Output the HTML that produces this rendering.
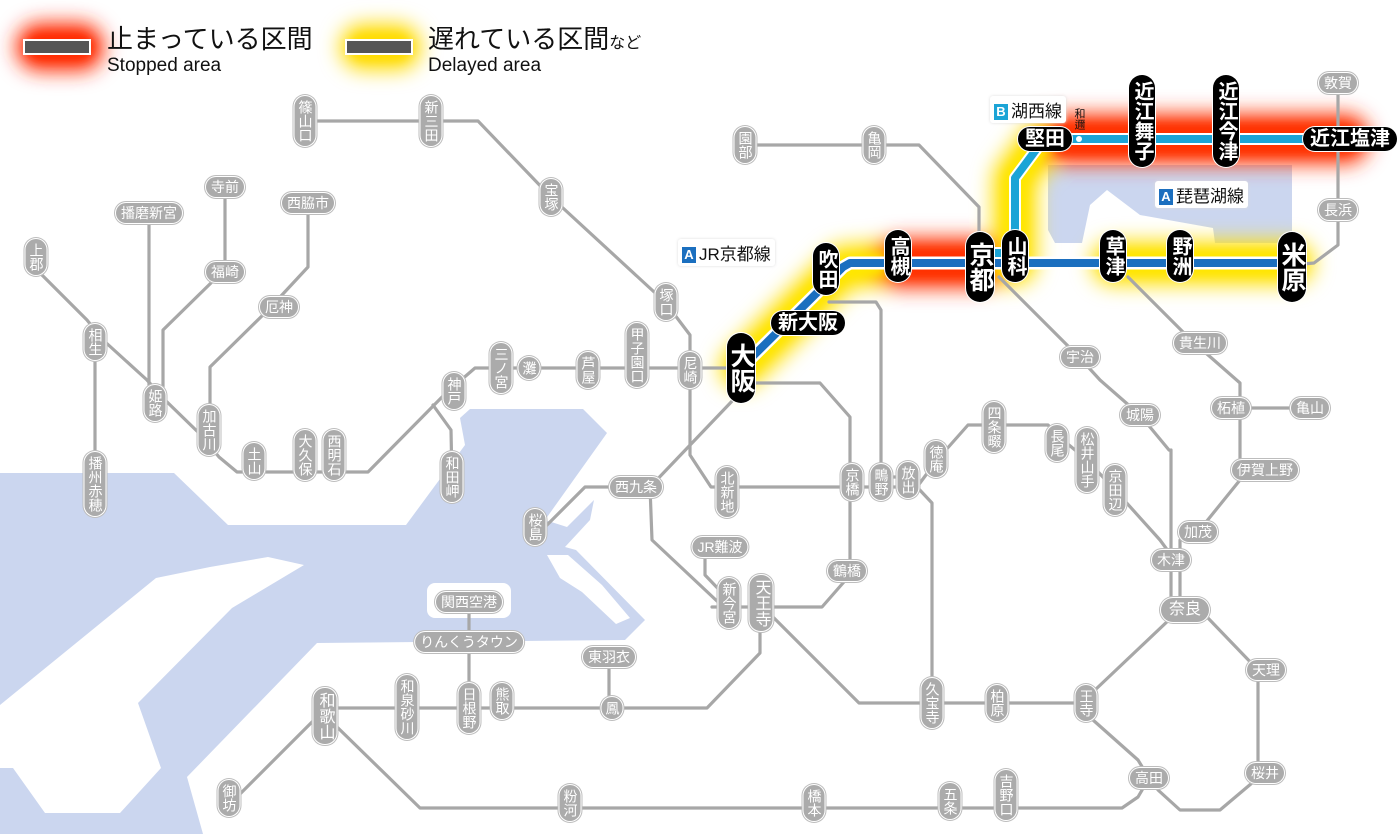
<!DOCTYPE html>
<html><head><meta charset="utf-8">
<style>
html,body{margin:0;padding:0;background:#fff;}
#w{position:relative;width:1400px;height:834px;overflow:hidden;font-family:"Liberation Sans","Noto Sans CJK JP",sans-serif;}
svg{position:absolute;left:0;top:0;}
.p{position:absolute;transform:translate(-50%,-50%);background:#ababab;color:#fff;font-size:14px;border-radius:11px;box-shadow:0 0 0 1px #fff,0 0 0 2px #bdbdbd;white-space:nowrap;text-align:center;}
.v{writing-mode:vertical-rl;width:21px;line-height:21px;padding:4px 0;}
.h{height:20px;line-height:20px;padding:0 5px;}
.b{position:absolute;transform:translate(-50%,-50%);background:#000;color:#fff;font-weight:bold;font-size:20px;border-radius:14px;white-space:nowrap;text-align:center;box-shadow:0 0 0 1px #fff;}
.bv{writing-mode:vertical-rl;width:26px;line-height:26px;padding:6px 0;}
.bh{height:24px;line-height:24px;padding:0 7px;}
.big{font-size:25px;width:28px;line-height:28px;padding:10px 0;}
.lab{position:absolute;background:#fff;font-size:17px;color:#111;padding:1px 4px;border-radius:3px;box-shadow:0 0 3px #ddd;white-space:nowrap;}
.lab i{font-style:normal;display:inline-block;width:14px;height:16px;line-height:16px;font-size:13px;color:#fff;text-align:center;margin-right:3px;vertical-align:1px;font-weight:bold;}
</style></head><body><div id="w">
<svg width="1400" height="834" viewBox="0 0 1400 834">
<defs>
<filter id="bl" x="-50%" y="-50%" width="200%" height="200%"><feGaussianBlur stdDeviation="10"/></filter>
<filter id="bl2" x="-50%" y="-50%" width="200%" height="200%"><feGaussianBlur stdDeviation="5"/></filter>
</defs>
<g fill="#cbd6ef">
<polygon points="0,473 174,473 228,525 406,525 465,445 460,418 470,409 583,409 607,433 545,520 567,527 594,500 590,520 565,547 576,550 645,620 625,640 317,643 187,777 203,834 0,834"/>
<polygon points="1048,165 1292,165 1292,243 1215,243 1213,228 1140,215 1107,190 1090,205 1082,243 1055,243 1048,230"/>
</g>
<g fill="#fff">
<polygon points="304,565 268,557 210,567 156,578 0,705 0,768 13,768 45,813 120,813 161,768 138,703 232,608"/>
<rect x="427" y="583" width="84" height="35" rx="8"/>
<polygon points="547,555 568,555 602,585 630,618 616,624 582,592 560,578"/>
</g>
<g fill="none" stroke-linecap="round" stroke-linejoin="round" filter="url(#bl)">
<path d="M742,367 L843,267 L898,263 M980,263 L1015,263 L1015,178 L1044,139 M1113,263 L1292,263" stroke="#ffe000" stroke-width="44"/>
<path d="M898,263 L980,263 M1062,139 L1345,139" stroke="#ff3000" stroke-width="50"/>
<path d="M40,47 L80,47" stroke="#ff2a00" stroke-width="48"/>
<path d="M363,47 L398,47" stroke="#ffdc00" stroke-width="46"/>
</g>
<g fill="none" stroke-linecap="round" stroke-linejoin="round" filter="url(#bl2)">
<path d="M742,367 L843,267 L898,263 M980,263 L1015,263 L1015,178 L1044,139 M1113,263 L1292,263" stroke="#ffe800" stroke-width="22"/>
<path d="M898,263 L980,263 M1062,139 L1345,139" stroke="#ff3000" stroke-width="28"/>
<path d="M40,47 L80,47" stroke="#ff2a00" stroke-width="24"/>
<path d="M363,47 L398,47" stroke="#ffdc00" stroke-width="24"/>
</g>
<rect x="24" y="40" width="66" height="14" fill="#555" stroke="#fff" stroke-width="2"/>
<rect x="346" y="40" width="66" height="14" fill="#555" stroke="#fff" stroke-width="2"/>
<g fill="none" stroke-linejoin="round" stroke-linecap="round">
<g stroke="#a7a7a7" stroke-width="3.2">
<path d="M305,121 L478,121 L551,197 L665,302 L690,335 L690,455 L711,487 L908,487"/>
<path d="M881,477 L908,477"/>
<path d="M740,368 L475,368 L446,393 L368,472 L237,472 L219,457 L201,435 L165,400 L147,380 L103,340 L87,320 L40,273"/>
<path d="M95,340 L95,500"/>
<path d="M433,405 L451,430 L452,480"/>
<path d="M149,213 L149,400"/>
<path d="M225,187 L225,272 L214,280 L163,330 L163,390"/>
<path d="M308,203 L308,267 L268,310 L210,367 L210,430"/>
<path d="M740,383 L820,383 L850,417 L850,575 L822,607 L712,607"/>
<path d="M735,398 L650,487 L652,540 L718,602 L729,607"/>
<path d="M636,487 L585,487 L545,527"/>
<path d="M705,548 L705,575 L729,600"/>
<path d="M760,630 L760,653 L707,708 L335,708"/>
<path d="M769,613 L859,703 L1086,703 L1095,690 L1171,618"/>
<path d="M1093,720 L1138,760 L1149,778 L1138,797 L1122,808 L420,808 L335,725"/>
<path d="M317,717 L237,797"/>
<path d="M609,657 L609,700"/>
<path d="M469,602 L469,700"/>
<path d="M1158,790 L1180,810 L1220,810 L1252,783 L1258,773 L1258,670 L1207,617"/>
<path d="M1171,450 L1171,610 M1140,415 L1169,450 M1140,415 L1100,380 L1079,357 L999,277"/>
<path d="M1180,610 L1180,540 L1198,532 L1240,480 L1240,383 L1191,340 L1128,277"/>
<path d="M1231,408 L1310,408 M1240,470 L1265,470"/>
<path d="M917,487 L937,460 L968,425 L1048,425 L1057,435 L1087,460 L1115,490 L1160,540 L1171,555"/>
<path d="M917,487 L932,503 L932,703"/>
<path d="M829,302 L876,302 L881,310 L881,487"/>
<path d="M745,145 L919,145 L979,207 L979,240"/>
<path d="M1015,265 L1113,265 M1292,265 L1314,263 L1338,245 L1338,83"/>
</g>
</g>
<g fill="none" stroke-linejoin="round">
<path d="M742,367 L843,267 L850,263 L1292,263" stroke="#fff" stroke-width="13"/>
<path d="M980,253 L1015,253 L1015,178 L1044,139 L1352,139" stroke="#fff" stroke-width="12"/>
<path d="M742,367 L843,267 L850,263 L1292,263" stroke="#1b6fbf" stroke-width="8"/>
<path d="M980,253 L1015,253 L1015,178 L1044,139 L1352,139" stroke="#1ba4d6" stroke-width="8"/>
</g>
<circle cx="1079" cy="139" r="3" fill="#fff"/>
</svg>

<div style="position:absolute;left:107px;top:24px;font-size:26px;line-height:30px;color:#111;">止まっている区間</div>
<div style="position:absolute;left:107px;top:55px;font-size:19px;line-height:22px;color:#111;">Stopped area</div>
<div style="position:absolute;left:428px;top:24px;font-size:26px;line-height:30px;color:#111;">遅れている区間<span style="font-size:16px">など</span></div>
<div style="position:absolute;left:428px;top:55px;font-size:19px;line-height:22px;color:#111;">Delayed area</div>

<div class="lab" style="left:990px;top:96px;"><i style="background:#1ba4d6">B</i>湖西線</div>
<div class="lab" style="left:1155px;top:181px;"><i style="background:#1b6fbf">A</i>琵琶湖線</div>
<div class="lab" style="left:678px;top:239px;"><i style="background:#1b6fbf">A</i>JR京都線</div>
<div style="position:absolute;left:1073px;top:108px;writing-mode:vertical-rl;font-size:11px;line-height:12px;color:#111;">和邇</div>

<div class="p v" style="left:305px;top:121px">篠山口</div>
<div class="p v" style="left:431px;top:121px">新三田</div>
<div class="p v" style="left:551px;top:197px">宝塚</div>
<div class="p v" style="left:745px;top:145px">園部</div>
<div class="p v" style="left:874px;top:145px">亀岡</div>
<div class="p h" style="left:1338px;top:83px">敦賀</div>
<div class="p h" style="left:1338px;top:210px">長浜</div>
<div class="p h" style="left:225px;top:187px">寺前</div>
<div class="p h" style="left:149px;top:213px">播磨新宮</div>
<div class="p h" style="left:308px;top:203px">西脇市</div>
<div class="p v" style="left:36px;top:257px">上郡</div>
<div class="p h" style="left:225px;top:272px">福崎</div>
<div class="p h" style="left:279px;top:307px">厄神</div>
<div class="p v" style="left:95px;top:342px">相生</div>
<div class="p v" style="left:155px;top:403px">姫路</div>
<div class="p v" style="left:209px;top:430px">加古川</div>
<div class="p v" style="left:254px;top:461px">土山</div>
<div class="p v" style="left:305px;top:455px">大久保</div>
<div class="p v" style="left:334px;top:455px">西明石</div>
<div class="p v" style="left:454px;top:391px">神戸</div>
<div class="p v" style="left:452px;top:477px">和田岬</div>
<div class="p v" style="left:501px;top:368px">三ノ宮</div>
<div class="p v" style="left:529px;top:368px">灘</div>
<div class="p v" style="left:588px;top:370px">芦屋</div>
<div class="p v" style="left:637px;top:355px">甲子園口</div>
<div class="p v" style="left:666px;top:302px">塚口</div>
<div class="p v" style="left:690px;top:370px">尼崎</div>
<div class="p v" style="left:95px;top:484px">播州赤穂</div>
<div class="p h" style="left:636px;top:487px">西九条</div>
<div class="p v" style="left:535px;top:527px">桜島</div>
<div class="p v" style="left:727px;top:492px">北新地</div>
<div class="p v" style="left:852px;top:482px">京橋</div>
<div class="p v" style="left:881px;top:482px">鴫野</div>
<div class="p v" style="left:908px;top:480px">放出</div>
<div class="p v" style="left:936px;top:459px">徳庵</div>
<div class="p v" style="left:994px;top:427px">四条畷</div>
<div class="p v" style="left:1057px;top:443px">長尾</div>
<div class="p v" style="left:1087px;top:460px">松井山手</div>
<div class="p v" style="left:1115px;top:490px">京田辺</div>
<div class="p h" style="left:1080px;top:357px">宇治</div>
<div class="p h" style="left:1140px;top:415px">城陽</div>
<div class="p h" style="left:1200px;top:343px">貴生川</div>
<div class="p h" style="left:1231px;top:408px">柘植</div>
<div class="p h" style="left:1310px;top:408px">亀山</div>
<div class="p h" style="left:1265px;top:470px">伊賀上野</div>
<div class="p h" style="left:1198px;top:532px">加茂</div>
<div class="p h" style="left:1171px;top:560px">木津</div>
<div class="p h" style="left:1185px;top:610px;font-size:16px;height:24px;line-height:24px;padding:0 8px;border-radius:12px">奈良</div>
<div class="p h" style="left:1266px;top:670px">天理</div>
<div class="p h" style="left:1265px;top:773px">桜井</div>
<div class="p h" style="left:1149px;top:778px">高田</div>
<div class="p v" style="left:1086px;top:703px">王寺</div>
<div class="p v" style="left:997px;top:703px">柏原</div>
<div class="p v" style="left:932px;top:703px">久宝寺</div>
<div class="p v" style="left:761px;top:603px;font-size:16px;width:23px;line-height:23px">天王寺</div>
<div class="p v" style="left:729px;top:603px">新今宮</div>
<div class="p h" style="left:720px;top:547px">JR難波</div>
<div class="p h" style="left:847px;top:571px">鶴橋</div>
<div class="p h" style="left:469px;top:602px">関西空港</div>
<div class="p h" style="left:469px;top:642px">りんくうタウン</div>
<div class="p h" style="left:609px;top:657px">東羽衣</div>
<div class="p v" style="left:612px;top:708px">鳳</div>
<div class="p v" style="left:502px;top:701px">熊取</div>
<div class="p v" style="left:469px;top:708px">日根野</div>
<div class="p v" style="left:407px;top:707px">和泉砂川</div>
<div class="p v" style="left:325px;top:716px;font-size:16px;width:23px;line-height:23px">和歌山</div>
<div class="p v" style="left:229px;top:798px">御坊</div>
<div class="p v" style="left:570px;top:803px">粉河</div>
<div class="p v" style="left:814px;top:803px">橋本</div>
<div class="p v" style="left:950px;top:801px">五条</div>
<div class="p v" style="left:1006px;top:795px">吉野口</div>

<div class="b bv big" style="left:741px;top:368px">大阪</div>
<div class="b bh" style="left:808px;top:323px">新大阪</div>
<div class="b bv" style="left:826px;top:269px">吹田</div>
<div class="b bv" style="left:898px;top:256px">高槻</div>
<div class="b bv big" style="left:980px;top:267px">京都</div>
<div class="b bv" style="left:1015px;top:256px">山科</div>
<div class="b bh" style="left:1045px;top:139px">堅田</div>
<div class="b bv" style="left:1142px;top:121px">近江舞子</div>
<div class="b bv" style="left:1226px;top:121px">近江今津</div>
<div class="b bh" style="left:1350px;top:139px">近江塩津</div>
<div class="b bv" style="left:1113px;top:256px">草津</div>
<div class="b bv" style="left:1180px;top:256px">野洲</div>
<div class="b bv big" style="left:1292px;top:267px">米原</div>
</div></body></html>
